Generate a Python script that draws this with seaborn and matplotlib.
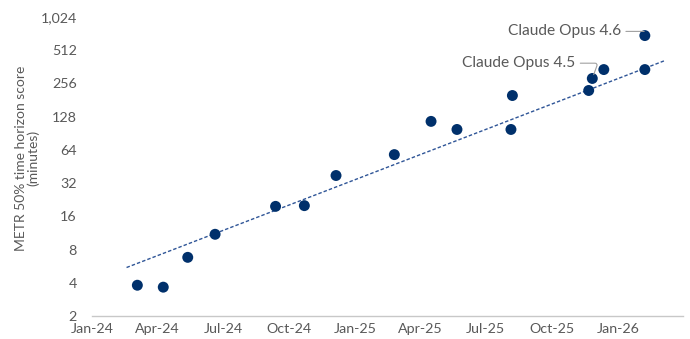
import numpy as np
import pandas as pd
import matplotlib
matplotlib.use("Agg")
import matplotlib.pyplot as plt
import matplotlib.dates as mdates
from matplotlib.ticker import FixedLocator, FuncFormatter
import seaborn as sns

# Model release dates and METR 50% time horizon (minutes)
release_dates = [
    "2024-03-04", "2024-04-09", "2024-05-13", "2024-06-20", "2024-09-12",
    "2024-10-22", "2024-12-05", "2025-02-24", "2025-04-16", "2025-05-22",
    "2025-08-05", "2025-08-07", "2025-11-21", "2025-11-26", "2025-12-12",
    "2026-02-07", "2026-02-07",
]
horizon_minutes = [
    3.8, 3.65, 6.8, 11.0, 19.7,
    20.0, 37.5, 58.0, 116.0, 98.0,
    98.0, 199.0, 221.0, 284.0, 342.0,
    342.0, 695.0,
]
model_names = [
    "", "", "", "", "",
    "", "", "", "", "",
    "", "", "", "Claude Opus 4.5", "",
    "", "Claude Opus 4.6",
]

# Exponential trend line (endpoints of the fitted curve)
trend_dates = ["2024-02-18", "2026-03-07"]
trend_minutes = [5.5, 413.0]

y_ticks = [2, 4, 8, 16, 32, 64, 128, 256, 512, 1024]
x_tick_dates = ["2024-01-01", "2024-04-01", "2024-07-01", "2024-10-01", "2025-01-01",
                "2025-04-01", "2025-07-01", "2025-10-01", "2026-01-01"]

df = pd.DataFrame({
    "date": pd.to_datetime(release_dates),
    "minutes": horizon_minutes,
    "model": model_names,
})
trend = pd.DataFrame({"date": pd.to_datetime(trend_dates), "minutes": trend_minutes})

NAVY = "#00306b"
TREND = "#2f5597"
TEXT = "#595959"

sns.set_theme(style="white")
plt.rcParams["font.family"] = ["Lato", "DejaVu Sans"]

fig = plt.figure(figsize=(6.9, 3.39), dpi=100)
ax = fig.add_axes([92 / 690, 1 - 316 / 339, (683 - 92) / 690, (316 - 17) / 339])

ax.set_yscale("log", base=2)

# Straight on the log axis: exponential growth trend
sns.lineplot(data=trend, x="date", y="minutes", ax=ax, color=TREND,
             linewidth=1.0, linestyle=(0, (2.5, 1.5)), zorder=2)

sns.scatterplot(data=df, x="date", y="minutes", ax=ax, color=NAVY,
                s=62, edgecolor="none", zorder=3)

ax.set_ylim(2, 1024)
ax.set_xlim(pd.Timestamp("2024-01-01"), pd.Timestamp("2026-04-01"))
ax.yaxis.set_major_locator(FixedLocator(y_ticks))
ax.yaxis.set_minor_locator(FixedLocator([]))
ax.yaxis.set_major_formatter(FuncFormatter(lambda v, p: f"{int(round(v)):,}"))
ax.xaxis.set_major_locator(FixedLocator(mdates.date2num(pd.to_datetime(x_tick_dates))))
ax.xaxis.set_major_formatter(mdates.DateFormatter("%b-%y"))

for side in ["top", "right", "left"]:
    ax.spines[side].set_visible(False)
ax.spines["bottom"].set_color("#c8c8c8")
ax.spines["bottom"].set_linewidth(1.0)
ax.tick_params(axis="both", length=0, labelsize=10.3, labelcolor=TEXT)
ax.tick_params(axis="y", pad=11)
ax.tick_params(axis="x", pad=5)
ax.grid(False)
ax.set_xlabel("")
ax.set_ylabel("")

fig.text(27 / 690, 1 - 158 / 339, "METR 50% time horizon score\n(minutes)",
         rotation=90, ha="center", va="center", fontsize=10, color=TEXT,
         linespacing=1.0)

# Callouts for the labelled models
offsets = {"Claude Opus 4.5": (-12, 11), "Claude Opus 4.6": (-17, 3)}
for _, row in df[df["model"] != ""].iterrows():
    dx, dy = offsets[row["model"]]
    ax.annotate(row["model"], xy=(row["date"], row["minutes"]),
                xytext=(dx, dy), textcoords="offset points",
                ha="right", va="center", fontsize=11.2, color=TEXT,
                arrowprops=dict(arrowstyle="-", color="#a0a0a0", lw=0.8,
                                shrinkA=1, shrinkB=3,
                                connectionstyle="angle,angleA=0,angleB=70,rad=3"))

fig.savefig("out.png", dpi=100)
